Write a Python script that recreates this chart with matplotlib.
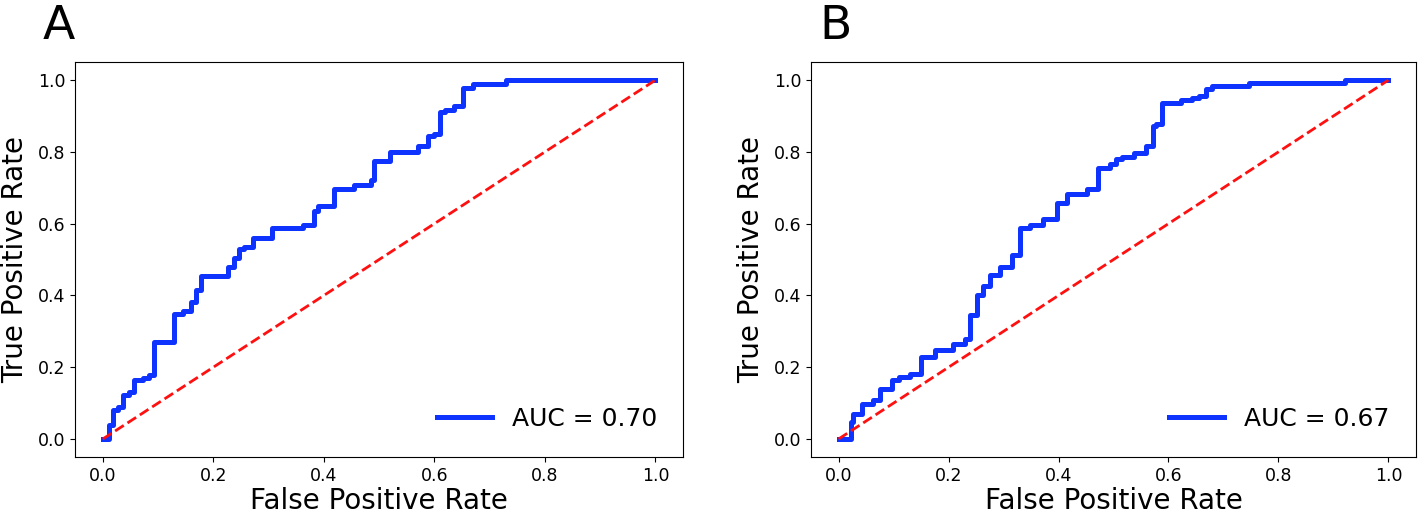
import matplotlib
matplotlib.use("Agg")
import matplotlib.pyplot as plt

# panel A roc points (fpr, tpr)
fpr_a = [0.0, 0.011, 0.018, 0.027, 0.036, 0.047, 0.056, 0.072, 0.083, 0.092,
         0.128, 0.145, 0.159, 0.168, 0.177, 0.226, 0.237, 0.246, 0.255, 0.271,
         0.307, 0.363, 0.382, 0.39, 0.418, 0.454, 0.485, 0.49, 0.52, 0.57,
         0.588, 0.60, 0.61, 0.62, 0.636, 0.651, 0.67, 0.73, 1.0]
tpr_a = [0.0, 0.039, 0.081, 0.089, 0.123, 0.131, 0.165, 0.170, 0.179, 0.271,
         0.349, 0.357, 0.383, 0.416, 0.455, 0.48, 0.503, 0.53, 0.535, 0.559,
         0.587, 0.595, 0.634, 0.648, 0.696, 0.709, 0.723, 0.774, 0.80, 0.816,
         0.843, 0.85, 0.91, 0.916, 0.927, 0.978, 0.99, 1.0, 1.0]
auc_a = 0.70

# panel B roc points
fpr_b = [0.0, 0.022, 0.027, 0.043, 0.063, 0.076, 0.098, 0.109, 0.13, 0.149,
         0.176, 0.208, 0.23, 0.239, 0.252, 0.263, 0.275, 0.293, 0.315, 0.33,
         0.348, 0.371, 0.397, 0.415, 0.433, 0.451, 0.471, 0.493, 0.505, 0.516,
         0.538, 0.56, 0.571, 0.578, 0.589, 0.623, 0.643, 0.656, 0.668, 0.679,
         0.746, 0.922, 1.0]
tpr_b = [0.0, 0.047, 0.07, 0.098, 0.109, 0.14, 0.165, 0.173, 0.182, 0.229,
         0.249, 0.265, 0.279, 0.346, 0.402, 0.425, 0.458, 0.48, 0.514, 0.587,
         0.595, 0.612, 0.657, 0.682, 0.684, 0.698, 0.754, 0.765, 0.779, 0.785,
         0.796, 0.816, 0.872, 0.877, 0.936, 0.944, 0.95, 0.955, 0.975, 0.983,
         0.992, 1.0, 1.0]
auc_b = 0.67

fig = plt.figure(figsize=(14.18, 5.14), dpi=100)
ax_a = fig.add_axes([0.053, 0.111, 0.4287, 0.768])
ax_b = fig.add_axes([0.572, 0.111, 0.4265, 0.768])

for ax, f, t, auc, letter, lx in [(ax_a, fpr_a, tpr_a, auc_a, "A", 0.030),
                                  (ax_b, fpr_b, tpr_b, auc_b, "B", 0.578)]:
    ax.plot(f, t, color="#0f33ff", lw=3.6, drawstyle="steps-post",
            label="AUC = %.2f" % auc)
    ax.plot([0, 1], [0, 1], color="#ff1010", lw=2, ls="--")
    ax.set_xlabel("False Positive Rate", fontsize=20, labelpad=2)
    ax.set_ylabel("True Positive Rate", fontsize=20, labelpad=6)
    ax.tick_params(labelsize=12.5)
    ax.legend(loc="lower right", fontsize=18, frameon=False,
              handlelength=2.2, borderaxespad=0.65)
    fig.text(lx, 0.925, letter, fontsize=34)

fig.savefig("out.png", dpi=100)
